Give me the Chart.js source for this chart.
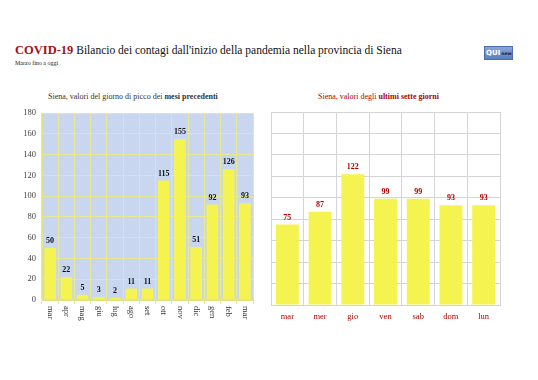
<!DOCTYPE html>
<html>
<head>
<meta charset="utf-8">
<script src="https://cdn.jsdelivr.net/npm/chart.js@4"></script>
<style>
  body { margin: 0; background: #fff; width: 538px; height: 380px; position: relative; overflow: hidden;
         font-family: "Liberation Serif", "DejaVu Serif", serif; }
  .title { position: absolute; left: 15px; top: 43px; font-size: 11.5px; color: #111; white-space: nowrap; }
  .title b { color: #a50f15; font-size: 12.5px; }
  .sub { position: absolute; left: 15px; top: 60px; font-size: 6px; color: #222; }
  .logo { position: absolute; left: 484px; top: 46px; width: 27px; height: 12px;
          background: linear-gradient(#8aa6d6, #5b7fbf); border: 1px solid #4d6ea8;
          font-family: "DejaVu Sans", sans-serif; white-space: nowrap; overflow: hidden;
          display: flex; align-items: center; }
  .logo span { color: #fff; font-weight: bold; font-size: 7px; margin-left: 1px; }
  .logo small { color: #1a2340; font-size: 4.5px; font-weight: bold; margin-left: 1px; }
  .ctitle { position: absolute; top: 92px; font-size: 8px; white-space: nowrap; }
  .wrap { position: absolute; }
</style>
</head>
<body>
<div class="title"><b>COVID-19</b> Bilancio dei contagi dall'inizio della pandemia nella provincia di Siena</div>
<div class="sub">Marzo fino a oggi</div>
<div class="logo"><span>QUI</span><small>news</small></div>
<div class="ctitle" style="left:48px;color:#333">Siena, valori del giorno di picco dei <b>mesi precedenti</b></div>
<div class="ctitle" style="left:318px;color:#b00000">Siena, valori degli <b>ultimi sette giorni</b></div>
<div class="wrap" style="left:10px;top:102px;width:250px;height:233px"><canvas id="left"></canvas></div>
<div class="wrap" style="left:265px;top:105px;width:245px;height:227px"><canvas id="right"></canvas></div>
<script>
var monthLabels = ['mar', 'apr', 'mag', 'giu', 'lug', 'ago', 'set', 'ott', 'nov', 'dic', 'gen', 'feb', 'mar'];
var monthPeaks = [50, 22, 5, 3, 2, 11, 11, 115, 155, 51, 92, 126, 93];
var dayLabels = ['mar', 'mer', 'gio', 'ven', 'sab', 'dom', 'lun'];
var dayValues = [75, 87, 122, 99, 99, 93, 93];
var yTicks = [0, 20, 40, 60, 80, 100, 120, 140, 160, 180];

var serif = '"Liberation Serif", "DejaVu Serif", serif';
var yellow = '#f4f350';

// plot area background
var areaBg = {
  id: 'areaBg',
  beforeDraw: function (chart, args, opts) {
    if (!opts.color) return;
    var a = chart.chartArea, ctx = chart.ctx;
    ctx.save();
    ctx.fillStyle = opts.color;
    ctx.fillRect(a.left, a.top, a.right - a.left, a.bottom - a.top);
    ctx.restore();
  }
};

// value labels above the bars
var valueLabels = {
  id: 'valueLabels',
  afterDatasetsDraw: function (chart, args, opts) {
    var ctx = chart.ctx;
    var meta = chart.getDatasetMeta(0);
    ctx.save();
    ctx.font = 'bold 8px ' + serif;
    ctx.fillStyle = opts.color;
    ctx.textAlign = 'center';
    ctx.textBaseline = 'bottom';
    meta.data.forEach(function (bar, i) {
      ctx.fillText(chart.data.datasets[0].data[i], bar.x, bar.y - 3);
    });
    ctx.restore();
  }
};

// x labels rotated clockwise (read top to bottom)
var downLabels = {
  id: 'downLabels',
  afterDraw: function (chart, args, opts) {
    if (!opts.on) return;
    var ctx = chart.ctx, xs = chart.scales.x;
    ctx.save();
    ctx.font = '8.5px ' + serif;
    ctx.fillStyle = '#333';
    ctx.textAlign = 'left';
    ctx.textBaseline = 'middle';
    chart.data.labels.forEach(function (lab, i) {
      ctx.save();
      ctx.translate(xs.getPixelForTick(i), xs.top + 6);
      ctx.rotate(Math.PI / 2);
      ctx.fillText(lab, 0, 0);
      ctx.restore();
    });
    ctx.restore();
  }
};

new Chart(document.getElementById('left'), {
  type: 'bar',
  data: {
    labels: monthLabels,
    datasets: [{
      data: monthPeaks,
      backgroundColor: yellow,
      barPercentage: 0.72,
      categoryPercentage: 1
    }]
  },
  plugins: [areaBg, valueLabels, downLabels],
  options: {
    responsive: true,
    maintainAspectRatio: false,
    animation: false,
    layout: { padding: { top: 7, right: 7, left: 0, bottom: 0 } },
    plugins: {
      legend: { display: false },
      tooltip: { enabled: false },
      areaBg: { color: '#c8d6f0' },
      valueLabels: { color: '#111' },
      downLabels: { on: true }
    },
    scales: {
      x: {
        grid: { color: '#e8e892', offset: true, tickLength: 4 },
        border: { color: '#e0e088' },
        ticks: { display: false },
        afterFit: function (s) { s.height = 35; }
      },
      y: {
        min: 0,
        max: 180,
        afterBuildTicks: function (s) { s.ticks = yTicks.map(function (v) { return { value: v }; }); },
        grid: { color: '#e8e892', tickLength: 0 },
        border: { color: '#e0e088' },
        ticks: { color: '#444', font: { family: serif, size: 8.5 }, padding: 6 },
        afterFit: function (s) { s.width = 32; }
      }
    }
  }
});

new Chart(document.getElementById('right'), {
  type: 'bar',
  data: {
    labels: dayLabels,
    datasets: [{
      data: dayValues,
      backgroundColor: yellow,
      barPercentage: 0.7,
      categoryPercentage: 1
    }]
  },
  plugins: [valueLabels],
  options: {
    responsive: true,
    maintainAspectRatio: false,
    animation: false,
    layout: { padding: { top: 7, right: 10, left: 6, bottom: 0 } },
    plugins: {
      legend: { display: false },
      tooltip: { enabled: false },
      valueLabels: { color: '#b00000' }
    },
    scales: {
      x: {
        grid: { color: '#d4d4d4', offset: true, tickLength: 0 },
        border: { color: '#d4d4d4' },
        ticks: { color: '#b00000', font: { family: serif, size: 8.5 }, padding: 7 },
        afterFit: function (s) { s.height = 27; }
      },
      y: {
        min: 0,
        max: 180,
        afterBuildTicks: function (s) { s.ticks = yTicks.map(function (v) { return { value: v }; }); },
        grid: { color: '#d4d4d4', tickLength: 0 },
        border: { color: '#d4d4d4' },
        ticks: { display: false },
        afterFit: function (s) { s.width = 0; }
      }
    }
  }
});
</script>
</body>
</html>
